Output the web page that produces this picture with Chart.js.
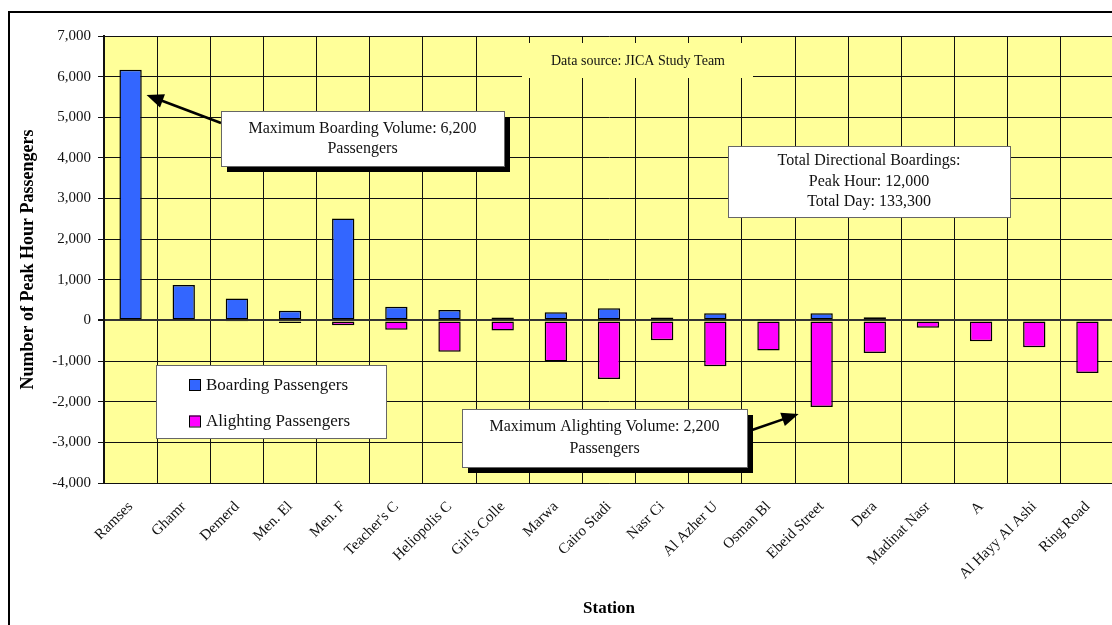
<!DOCTYPE html>
<html>
<head>
<meta charset="utf-8">
<script src="https://cdn.jsdelivr.net/npm/chart.js@4.4.1/dist/chart.umd.min.js"></script>
<style>
  html, body { margin: 0; padding: 0; background: #fff; overflow: hidden; }
  #wrap { position: absolute; left: 0; top: 0; width: 1120px; height: 625px; }
</style>
</head>
<body>
<div id="wrap"><canvas id="stations_chart"></canvas></div>
<script>
const stations = ["Ramses", "Ghamr", "Demerd", "Men. El", "Men. F", "Teacher's C", "Heliopolis C",
  "Girl's Colle", "Marwa", "Cairo Stadi", "Nasr Ci", "Al Azher U", "Osman Bl", "Ebeid Street",
  "Dera", "Madinat Nasr", "A", "Al Hayy Al Ashi", "Ring Road"];
const boarding = [6170, 870, 540, 240, 2510, 340, 260, 70, 200, 300, 70, 180, 20, 180, 80, 0, 0, 0, 0];
const alighting = [0, 0, -30, -60, -120, -230, -770, -250, -1010, -1440, -490, -1130, -740, -2130, -800, -180, -510, -660, -1290];
const yTicks = [-4000, -3000, -2000, -1000, 0, 1000, 2000, 3000, 4000, 5000, 6000, 7000];

const SERIF = '"Liberation Serif", "Times New Roman", serif';

function drawArrow(ctx, x1, y1, x2, y2) {
  const ang = Math.atan2(y2 - y1, x2 - x1);
  const hl = 17, hw = 7;
  ctx.save();
  ctx.strokeStyle = "#000";
  ctx.fillStyle = "#000";
  ctx.lineWidth = 2.5;
  ctx.beginPath();
  ctx.moveTo(x1, y1);
  ctx.lineTo(x2 - Math.cos(ang) * hl * 0.8, y2 - Math.sin(ang) * hl * 0.8);
  ctx.stroke();
  ctx.beginPath();
  ctx.moveTo(x2, y2);
  ctx.lineTo(x2 - Math.cos(ang) * hl - Math.sin(ang) * hw, y2 - Math.sin(ang) * hl + Math.cos(ang) * hw);
  ctx.lineTo(x2 - Math.cos(ang) * hl + Math.sin(ang) * hw, y2 - Math.sin(ang) * hl - Math.cos(ang) * hw);
  ctx.closePath();
  ctx.fill();
  ctx.restore();
}

function drawBox(ctx, x, y, w, h, lines, baselines, shadow) {
  ctx.save();
  if (shadow) {
    ctx.fillStyle = "#000";
    ctx.fillRect(x + 6, y + 6, w, h);
  }
  ctx.fillStyle = "#fff";
  ctx.fillRect(x, y, w, h);
  ctx.strokeStyle = "#666";
  ctx.lineWidth = 1;
  ctx.strokeRect(x + 0.5, y + 0.5, w, h);
  ctx.fillStyle = "#111";
  ctx.font = "16px " + SERIF;
  ctx.textAlign = "center";
  ctx.textBaseline = "alphabetic";
  lines.forEach((t, i) => ctx.fillText(t, x + w / 2, baselines[i]));
  ctx.restore();
}

const decor = {
  id: "decor",
  beforeDraw(chart) {
    const ctx = chart.ctx;
    const a = chart.chartArea;
    ctx.save();
    // outer frame
    ctx.strokeStyle = "#000";
    ctx.lineWidth = 2;
    ctx.strokeRect(9, 12, 1200, 800);
    // plot area
    ctx.fillStyle = "#FFFF99";
    ctx.fillRect(a.left, a.top, a.right - a.left, a.bottom - a.top);
    ctx.restore();
  },
  afterDraw(chart) {
    const ctx = chart.ctx;
    const xs = chart.scales.x;
    const ys = chart.scales.y;

    // data source note
    ctx.save();
    ctx.fillStyle = "#FFFF99";
    ctx.fillRect(522, 43, 231, 35);
    ctx.fillStyle = "#111";
    ctx.font = "14px " + SERIF;
    ctx.textAlign = "center";
    ctx.fillText("Data source: JICA Study Team", 638, 65);
    ctx.restore();

    // legend
    ctx.save();
    ctx.fillStyle = "#fff";
    ctx.fillRect(156, 365, 230, 73);
    ctx.strokeStyle = "#666";
    ctx.lineWidth = 1;
    ctx.strokeRect(156.5, 365.5, 230, 73);
    ctx.font = "17px " + SERIF;
    ctx.textBaseline = "alphabetic";
    chart.data.datasets.forEach((ds, i) => {
      const sy = 379 + i * 36.5;
      ctx.fillStyle = ds.backgroundColor;
      ctx.fillRect(189, sy, 11, 11);
      ctx.strokeStyle = "#000";
      ctx.strokeRect(189.5, sy + 0.5, 11, 11);
      ctx.fillStyle = "#111";
      ctx.fillText(ds.label, 206, 390 + i * 35.5);
    });
    ctx.restore();

    // arrows and text boxes
    drawArrow(ctx, 221, 123, xs.getPixelForValue(0) + 16, ys.getPixelForValue(5550));
    drawBox(ctx, 221, 111, 283, 55, ["Maximum Boarding Volume: 6,200", "Passengers"], [133, 153], true);

    drawBox(ctx, 728, 146, 282, 71, ["Total Directional Boardings:", "Peak Hour: 12,000", "Total Day: 133,300"], [165, 186, 206], false);

    drawArrow(ctx, 752, 430, xs.getPixelForValue(13) - 23, ys.getPixelForValue(-2300));
    drawBox(ctx, 462, 409, 285, 58, ["Maximum Alighting Volume: 2,200", "Passengers"], [431, 453], true);
  }
};

const ctx = document.getElementById("stations_chart").getContext("2d");

const myChart = new Chart(ctx, {
  type: "bar",
  data: {
    labels: stations,
    datasets: [
      {
        label: "Boarding Passengers",
        data: boarding,
        backgroundColor: "#3366FF",
        borderColor: "#000",
        borderWidth: 1.5,
        borderSkipped: false,
        barPercentage: 0.42,
        categoryPercentage: 1.0,
      },
      {
        label: "Alighting Passengers",
        data: alighting,
        backgroundColor: "#FF00FF",
        borderColor: "#000",
        borderWidth: 1.5,
        borderSkipped: false,
        barPercentage: 0.42,
        categoryPercentage: 1.0,
      },
    ],
  },
  options: {
    responsive: true,
    maintainAspectRatio: false,
    animation: false,
    layout: { padding: { left: 0, top: 36, right: 6, bottom: 0 } },
    plugins: {
      legend: { display: false },
      tooltip: { enabled: false },
    },
    scales: {
      x: {
        stacked: true,
        offset: true,
        grid: { color: "#111", lineWidth: 1, drawTicks: false, offset: true },
        border: { display: true, color: "#111", width: 1 },
        ticks: {
          autoSkip: false,
          maxRotation: 45,
          minRotation: 45,
          padding: 15,
          color: "#111",
          font: { family: SERIF, size: 15 },
        },
        title: {
          display: true,
          text: "Station",
          color: "#000",
          font: { family: SERIF, size: 17, weight: "bold" },
          padding: { top: 0, bottom: 6 },
        },
        afterFit(scale) { scale.height = 142; },
      },
      y: {
        stacked: true,
        min: -4000,
        max: 7000,
        afterBuildTicks(scale) { scale.ticks = yTicks.map((v) => ({ value: v })); },
        grid: {
          color: (c) => (c.tick && c.tick.value === 0 ? "#333" : "#111"),
          lineWidth: (c) => (c.tick && c.tick.value === 0 ? 2 : 1),
          drawTicks: true,
          tickLength: 6,
          tickColor: "#111",
        },
        border: { display: true, color: "#111", width: 2 },
        ticks: {
          padding: 7,
          color: "#111",
          font: { family: SERIF, size: 15 },
          callback: (v) => v.toLocaleString("en-US"),
        },
        title: {
          display: true,
          text: "Number of Peak Hour Passengers",
          color: "#000",
          font: { family: SERIF, size: 18, weight: "bold" },
          padding: { top: 18, bottom: 0 },
        },
        afterFit(scale) { scale.width = 104; },
      },
    },
  },
  plugins: [decor],
});
</script>
</body>
</html>
